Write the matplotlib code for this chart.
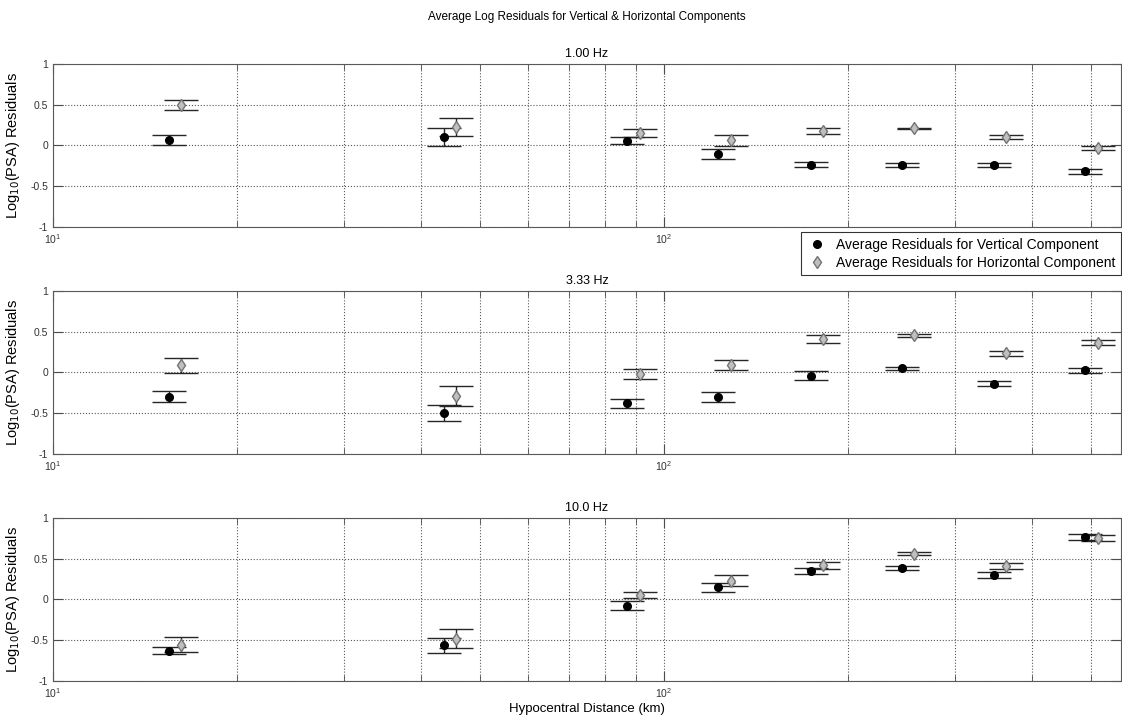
import numpy as np
import matplotlib
matplotlib.use("Agg")
from matplotlib import pyplot as plt
from matplotlib.ticker import LogLocator, FixedLocator, NullFormatter

plt.rcParams['font.family'] = ['Liberation Sans', 'DejaVu Sans']

# hypocentral distance bins (km), horizontal points are drawn slightly offset
dist_v = [15.5, 43.6, 87.0, 122.7, 173.8, 245.1, 346.5, 488.7]
dist_h = [16.2, 45.7, 91.2, 128.6, 181.9, 256.6, 362.7, 512.5]

freq_labels = ["1.00 Hz", "3.33 Hz", "10.0 Hz"]

# 1.00 Hz
res_v_1 = [0.069, 0.098, 0.057, -0.106, -0.233, -0.237, -0.237, -0.318]
err_v_1 = [0.061, 0.110, 0.045, 0.060, 0.033, 0.020, 0.025, 0.025]
res_h_1 = [0.500, 0.229, 0.155, 0.061, 0.180, 0.208, 0.102, -0.033]
err_h_1 = [0.061, 0.110, 0.050, 0.067, 0.035, 0.008, 0.027, 0.027]

# 3.33 Hz
res_v_2 = [-0.294, -0.494, -0.376, -0.302, -0.041, 0.049, -0.135, 0.029]
err_v_2 = [0.071, 0.096, 0.053, 0.059, 0.055, 0.022, 0.031, 0.031]
res_h_2 = [0.086, -0.286, -0.024, 0.090, 0.408, 0.457, 0.233, 0.363]
err_h_2 = [0.088, 0.118, 0.061, 0.061, 0.049, 0.018, 0.031, 0.031]

# 10.0 Hz
res_v_3 = [-0.624, -0.559, -0.078, 0.147, 0.347, 0.388, 0.302, 0.763]
err_v_3 = [0.043, 0.092, 0.055, 0.059, 0.037, 0.022, 0.037, 0.035]
res_h_3 = [-0.551, -0.478, 0.053, 0.229, 0.420, 0.559, 0.408, 0.751]
err_h_3 = [0.090, 0.114, 0.037, 0.065, 0.043, 0.020, 0.033, 0.041]

panels = [(res_v_1, err_v_1, res_h_1, err_h_1),
          (res_v_2, err_v_2, res_h_2, err_h_2),
          (res_v_3, err_v_3, res_h_3, err_h_3)]

fig = plt.figure(figsize=(11.22, 7.17), dpi=100)
fig.suptitle("Average Log Residuals for Vertical & Horizontal Components",
             fontsize=8.5, y=0.985, x=0.523)

left, width, height = 0.0472, 0.952, 0.2282
bottoms = [0.683, 0.3664, 0.0498]

axes = []
for i, (rv, ev, rh, eh) in enumerate(panels):
    ax = fig.add_axes([left, bottoms[i], width, height])
    ax.errorbar(dist_v, rv, yerr=ev, fmt='o', color='black', ecolor='0.15',
                markersize=5.5, elinewidth=1, capsize=11.9, capthick=1,
                label="Average Residuals for Vertical Component")
    ax.errorbar(dist_h, rh, yerr=eh, fmt='d', markerfacecolor='0.75',
                markeredgecolor='0.45', markersize=6, ecolor='0.15',
                elinewidth=1, capsize=11.9, capthick=1,
                label="Average Residuals for Horizontal Component")
    ax.set_xscale('log')
    ax.set_xlim(10, 560)
    ax.set_ylim(-1, 1)
    ax.set_yticks([-1, -0.5, 0, 0.5, 1])
    ax.set_yticklabels(["-1", "-0.5", "0", "0.5", "1"])
    ax.xaxis.set_major_locator(FixedLocator([10, 100]))
    ax.xaxis.set_minor_locator(LogLocator(base=10, subs=np.arange(2, 10)))
    ax.xaxis.set_minor_formatter(NullFormatter())
    ax.grid(True, which='both', axis='x', linestyle=':', color='0.35', linewidth=0.8)
    ax.grid(True, which='major', axis='y', linestyle=':', color='0.35', linewidth=0.8)
    ax.tick_params(which='both', direction='in', top=True, right=True,
                   labelsize=7.5, labelcolor='0.2', color='0.3')
    ax.tick_params(which='major', length=7)
    ax.tick_params(which='minor', length=4)
    for s in ax.spines.values():
        s.set_color('0.35')
    ax.set_title(freq_labels[i], fontsize=9, pad=5)
    ax.set_ylabel("Log$_{10}$(PSA) Residuals", fontsize=10.5, labelpad=6)
    axes.append(ax)

axes[-1].set_xlabel("Hypocentral Distance (km)", fontsize=9.5, labelpad=2)

handles, labels = axes[0].get_legend_handles_labels()
handles = [h[0] for h in handles]
leg = fig.legend(handles, labels, loc='upper right', bbox_to_anchor=(0.999, 0.6764),
                 fontsize=10, frameon=True, fancybox=False, borderaxespad=0,
                 handletextpad=0.6, borderpad=0.4, labelspacing=0.3, handlelength=1.5)
leg.get_frame().set_edgecolor('black')
leg.get_frame().set_linewidth(0.8)

fig.savefig("out.png", dpi=100)
